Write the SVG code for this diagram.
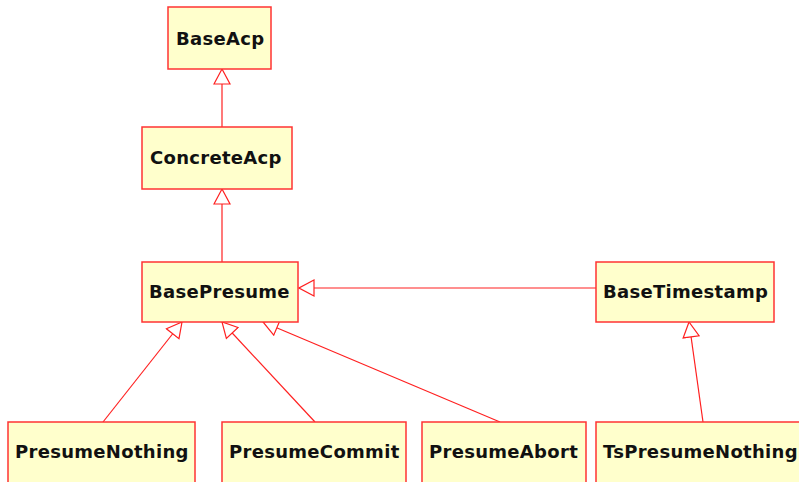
<svg xmlns="http://www.w3.org/2000/svg" width="799" height="482" viewBox="0 0 799 482">
<style>
.box{fill:#ffffcc;stroke:#ff3333;stroke-width:1.5}
.lbl{font-family:"DejaVu Sans",sans-serif;font-weight:bold;font-size:18px;letter-spacing:0.3px;fill:#111}
.edge{stroke:#ff2020;stroke-width:1.2;fill:none;marker-end:url(#gen)}
</style>
<defs>
<marker id="gen" markerUnits="userSpaceOnUse" viewBox="-1 -1 17 18" refX="15" refY="8" markerWidth="17" markerHeight="18" orient="auto">
<path d="M0,0 L15,8 L0,16 Z" fill="#ffffff" stroke="#ff2020" stroke-width="1.2"/>
</marker>
</defs>
<rect width="799" height="482" fill="#ffffff"/>
<g id="edges">
<line class="edge" x1="222" y1="127" x2="222" y2="69"/>
<line class="edge" x1="222" y1="262" x2="222" y2="189"/>
<line class="edge" x1="596" y1="288" x2="299" y2="288"/>
<line class="edge" x1="103" y1="422" x2="182" y2="322"/>
<line class="edge" x1="315" y1="422" x2="222" y2="322"/>
<line class="edge" x1="500" y1="422" x2="263" y2="322"/>
<line class="edge" x1="703" y1="422" x2="689" y2="322"/>
</g>
<g id="BaseAcp"><rect class="box" x="168" y="7" width="103" height="62"/><text class="lbl" x="176" y="45">BaseAcp</text></g>
<g id="ConcreteAcp"><rect class="box" x="142" y="127" width="150" height="62"/><text class="lbl" x="150" y="164">ConcreteAcp</text></g>
<g id="BasePresume"><rect class="box" x="142" y="262" width="156" height="60"/><text class="lbl" x="149" y="298">BasePresume</text></g>
<g id="BaseTimestamp"><rect class="box" x="596" y="262" width="178" height="60"/><text class="lbl" x="603" y="298">BaseTimestamp</text></g>
<g id="PresumeNothing"><rect class="box" x="8" y="422" width="187" height="62"/><text class="lbl" x="15" y="458">PresumeNothing</text></g>
<g id="PresumeCommit"><rect class="box" x="222" y="422" width="184" height="62"/><text class="lbl" x="229" y="458">PresumeCommit</text></g>
<g id="PresumeAbort"><rect class="box" x="422" y="422" width="164" height="62"/><text class="lbl" x="429" y="458">PresumeAbort</text></g>
<g id="TsPresumeNothing"><rect class="box" x="596" y="422" width="210" height="62"/><text class="lbl" x="603" y="458">TsPresumeNothing</text></g>
</svg>
